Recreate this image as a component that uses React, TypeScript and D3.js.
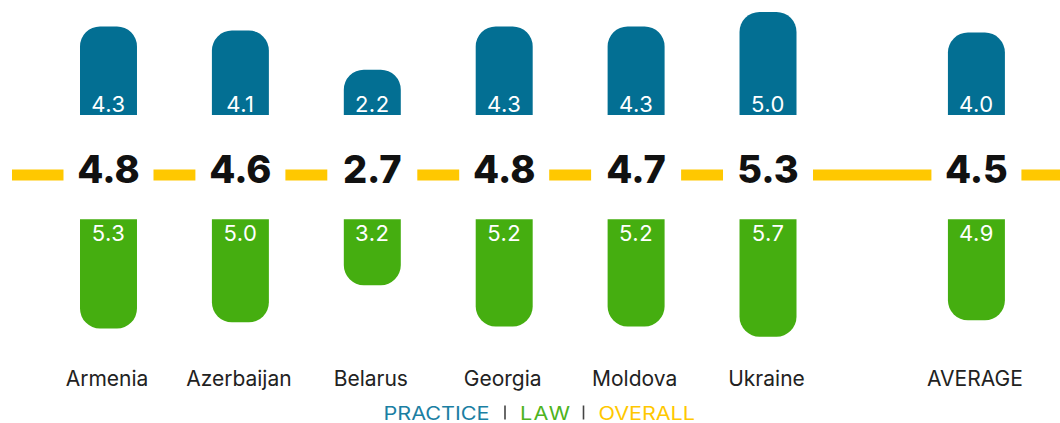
import React from "react";
import * as d3 from "d3";

const countries = ["Armenia", "Azerbaijan", "Belarus", "Georgia", "Moldova", "Ukraine"];
const practice = [4.3, 4.1, 2.2, 4.3, 4.3, 5.0];
const law = [5.3, 5.0, 3.2, 5.2, 5.2, 5.7];
const overall = [4.8, 4.6, 2.7, 4.8, 4.7, 5.3];
const averageLabel = "AVERAGE";
const averagePractice = 4.0;
const averageLaw = 4.9;
const averageOverall = 4.5;
const legendItems = ["PRACTICE", "LAW", "OVERALL"];

const W = 1060;
const H = 423;
const BLUE = "#036f93";
const GREEN = "#45ae10";
const YELLOW = "#ffc800";
const LEG_BLUE = "#1b7fa3";
const LEG_GREEN = "#4db320";
const FONT = "Inter, 'Open Sans', sans-serif";

function topRounded(x: number, w: number, y0: number, yt: number, r: number) {
  const rr = Math.min(r, (y0 - yt), w / 2);
  return `M${x},${y0}V${yt + rr}A${rr},${rr} 0 0 1 ${x + rr},${yt}H${x + w - rr}A${rr},${rr} 0 0 1 ${x + w},${yt + rr}V${y0}Z`;
}
function bottomRounded(x: number, w: number, y0: number, yb: number, r: number) {
  const rr = Math.min(r, (yb - y0), w / 2);
  return `M${x},${y0}V${yb - rr}A${rr},${rr} 0 0 0 ${x + rr},${yb}H${x + w - rr}A${rr},${rr} 0 0 0 ${x + w},${yb - rr}V${y0}Z`;
}

export default function App() {
  const x = d3.scaleBand<string>().domain(countries).range([80, 796.5]).paddingInner(0.568).paddingOuter(0);
  const bw = x.bandwidth();
  const step = x.step();
  const avgX = (x("Ukraine") as number) + step * 1.58;

  const yP = d3.scaleLinear().domain([0, 5]).range([115, 12]);
  const yL = d3.scaleLinear().domain([0, 5]).range([219.3, 322.3]);

  const rows = countries.map((c, i) => ({
    label: c, x: x(c) as number, p: practice[i], l: law[i], o: overall[i],
  }));
  rows.push({ label: averageLabel, x: avgX, p: averagePractice, l: averageLaw, o: averageOverall });

  const lineY = 175;
  const gap = 45;
  const centers = rows.map((r) => r.x + bw / 2);
  const segs: [number, number][] = [];
  let start = 12;
  centers.forEach((c) => {
    segs.push([start, c - gap]);
    start = c + gap;
  });
  segs.push([start, W]);

  const fmt = d3.format(".1f");

  const legY = 419.5;
  const sx = 1.2;
  const legend = [
    { text: legendItems[0], x: 383.5, len: 106, fill: LEG_BLUE },
    { text: legendItems[1], x: 520, len: 50, fill: LEG_GREEN },
    { text: legendItems[2], x: 598.5, len: 96.5, fill: YELLOW },
  ];
  const seps = [505, 583.5];

  return (
    <svg width={W} height={H} style={{ position: "absolute", left: 0, top: 0, background: "#fff" }}>
      {segs.map((s, i) => (
        <line key={"s" + i} x1={s[0]} x2={s[1]} y1={lineY} y2={lineY} stroke={YELLOW} strokeWidth={11} />
      ))}
      {rows.map((r, i) => {
        const cx = r.x + bw / 2;
        return (
          <g key={i}>
            <path d={topRounded(r.x, bw, yP(0), yP(r.p), 20)} fill={BLUE} />
            <path d={bottomRounded(r.x, bw, yL(0), yL(r.l), 20)} fill={GREEN} />
            <text x={cx} y={yP(0) - 3} textAnchor="middle" fill="#fff" fontFamily={FONT} fontSize={22} letterSpacing={0.5}>{fmt(r.p)}</text>
            <text x={cx} y={yL(0) + 21.5} textAnchor="middle" fill="#fff" fontFamily={FONT} fontSize={22} letterSpacing={0.5}>{fmt(r.l)}</text>
            <text x={cx} y={182.7} textAnchor="middle" fill="#111" fontFamily={FONT} fontWeight={800} fontSize={38}>{fmt(r.o)}</text>
            <text x={cx - 1.5} y={385.7} textAnchor="middle" fill="#222" fontFamily={FONT} fontSize={21}>{r.label}</text>
          </g>
        );
      })}
      {legend.map((l) => (
        <text key={l.text} transform={`translate(${l.x},${legY}) scale(${sx},1)`} fill={l.fill} fontFamily={FONT} fontSize={18}
          textLength={l.len / sx} lengthAdjust="spacing">{l.text}</text>
      ))}
      {seps.map((s) => (
        <line key={"sep" + s} x1={s} x2={s} y1={legY - 14} y2={legY} stroke="#444" strokeWidth={1.6} />
      ))}
    </svg>
  );
}
